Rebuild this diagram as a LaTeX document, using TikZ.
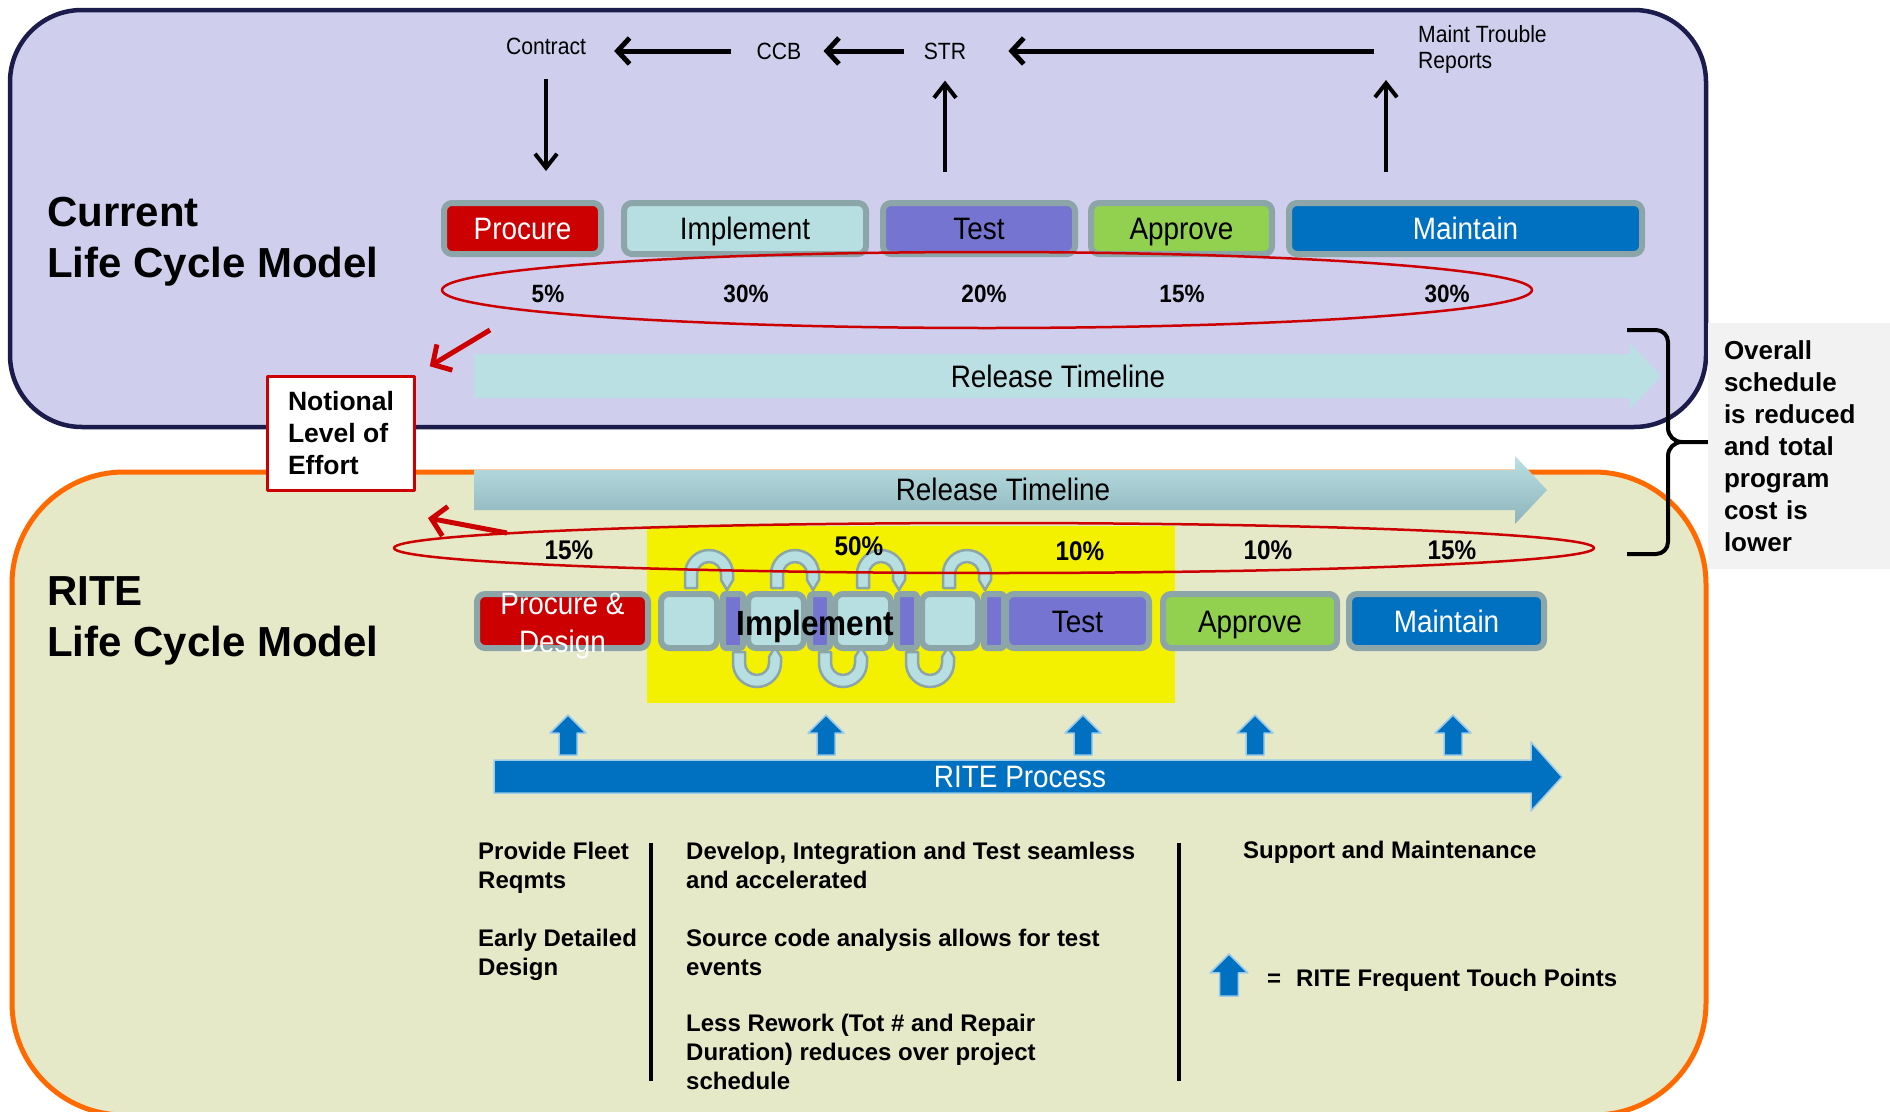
\documentclass[tikz,border=0pt]{standalone}
\usepackage{fontspec}
\setmainfont{Liberation Sans}
\newfontfamily\narrowfont{Liberation Sans}[FakeStretch=0.9]
\usetikzlibrary{arrows.meta,positioning}

\definecolor{curfill}{HTML}{CFCFED}
\definecolor{curline}{HTML}{1C1C4C}
\definecolor{ritefill}{HTML}{E6E9C8}
\definecolor{riteline}{HTML}{FF6A00}
\definecolor{procred}{HTML}{CC0000}
\definecolor{implcyan}{HTML}{B7DFE1}
\definecolor{testpurple}{HTML}{7575D1}
\definecolor{apprgreen}{HTML}{92D050}
\definecolor{maintblue}{HTML}{0070C0}
\definecolor{boxgray}{HTML}{8CA5A8}
\definecolor{relhi}{HTML}{BAE0E3}
\definecolor{rello}{HTML}{8DB4BB}
\definecolor{hilite}{HTML}{F3F000}
\definecolor{overallgray}{HTML}{F2F2F2}
\definecolor{touchedge}{HTML}{9CCBE8}

\newcommand{\stagefont}{\narrowfont\fontsize{31}{38}\selectfont}
\newcommand{\pctfont}{\narrowfont\bfseries\fontsize{25}{30}\selectfont}
\newcommand{\pctbigfont}{\narrowfont\bfseries\fontsize{27}{32}\selectfont}
\newcommand{\flowfont}{\narrowfont\fontsize{23.5}{26}\selectfont}
\newcommand{\titlefont}{\bfseries\fontsize{42}{51}\selectfont}
\newcommand{\notefont}{\bfseries\fontsize{26.5}{31.7}\selectfont}
\newcommand{\overallfont}{\bfseries\fontsize{26}{32}\selectfont}
\newcommand{\bodyfont}{\bfseries\fontsize{24}{29}\selectfont}
\newcommand{\implfont}{\narrowfont\bfseries\fontsize{35}{40}\selectfont}

\tikzset{
  loopup/.pic={\draw[loopband] (-24,14) -- (-24,0) arc[start angle=180,end angle=0,radius=24pt] -- (24,6) -- (18,16) -- (12,6) -- (12,0) arc[start angle=0,end angle=180,radius=12pt] -- (-12,14) -- cycle;},
  loopdown/.pic={\draw[loopband] (-24,-11) -- (-24,0) arc[start angle=180,end angle=360,radius=24pt] -- (24,-6) -- (18,-16) -- (12,-6) -- (12,0) arc[start angle=0,end angle=-180,radius=12pt] -- (-12,-11) -- cycle;},
  touch/.pic={\draw[fill=maintblue,draw=touchedge,line width=1.5pt] (-9,0) -- (-9,-22) -- (-18,-22) -- (0,-40) -- (18,-22) -- (9,-22) -- (9,0) -- cycle;}
}

\begin{document}
\begin{tikzpicture}[x=1pt,y=-1pt,line join=round]
  \tikzstyle{stage}=[draw=boxgray,line width=6pt,rounded corners=8pt,minimum height=51pt,inner sep=0pt,text height=22pt,text depth=0pt,font=\stagefont]
  \tikzstyle{lowstage}=[stage,minimum height=54pt]
  \tikzstyle{loopband}=[fill=implcyan,draw=boxgray,line width=2.5pt]
  \tikzstyle{flowlabel}=[inner sep=0pt,font=\flowfont,text height=16.8pt,text depth=0pt]
  \tikzstyle{flow}=[-{Straight Barb[length=12pt,width=26pt]},line width=5pt]
  \tikzstyle{flowv}=[-{Straight Barb[length=14pt,width=22pt]},line width=4pt]
  \tikzstyle{effort}=[-{Straight Barb[length=14pt,width=30pt]},draw=procred,line width=5pt]
  \tikzstyle{ring}=[draw=procred,line width=2.5pt]
  \tikzstyle{pct}=[inner sep=0pt,anchor=base,font=\pctfont]
  \tikzstyle{timelabel}=[inner sep=0pt,font=\stagefont,text height=21.5pt,text depth=0pt]
  \tikzstyle{bodytext}=[inner sep=0pt,font=\bodyfont,align=left]
\useasboundingbox (0,0) rectangle (1890,1111);
\fill[white] (0,0) rectangle (1890,1111);
\draw[draw=riteline,fill=ritefill,line width=5pt,rounded corners=112pt] (12,472) rectangle (1706,1115);
\draw[draw=curline,fill=curfill,line width=4.5pt,rounded corners=72pt] (10,10) rectangle (1706,427);
\node[fill=overallgray,minimum width=182pt,minimum height=246pt,inner sep=0pt,text width=150pt,align=left,font=\overallfont] (overall) at (1799,446) {Overall\\schedule\\is reduced\\and total\\program\\cost is\\lower};
\draw[line width=4pt] (1627,330) -- (1656,330) to[out=0,in=90] (1668,342) -- (1668,428) to[out=270,in=180] (1682,442) -- (overall.west |- 0,442);
\draw[line width=4pt] (1627,554) -- (1656,554) to[out=0,in=270] (1668,542) -- (1668,456) to[out=90,in=180] (1682,442);

\node[inner sep=0pt,anchor=north west,align=left,font=\titlefont] (curtitle) at (47,197) {Current\\Life Cycle Model};
\node[inner sep=0pt,anchor=north west,align=left,font=\titlefont] (ritetitle) at (47,576) {RITE\\Life Cycle Model};

\node[flowlabel] (contract) at (546,46) {Contract};
\node[flowlabel] (ccb) at (779,51) {CCB};
\node[flowlabel] (str) at (945,51) {STR};
\node[inner sep=0pt,anchor=north west,align=left,font=\flowfont] (mtr) at (1418,25) {Maint Trouble\\Reports};
\coordinate (mtrpin) at (1386,80);

\node[stage,fill=procred,text=white,minimum width=157pt] (procure) at (522.5,228.5) {Procure};
\node[stage,fill=implcyan,minimum width=242pt,right=17pt of procure] (implement) {Implement};
\node[stage,fill=testpurple,minimum width=192pt,right=11pt of implement] (test) {Test};
\node[stage,fill=apprgreen,minimum width=181pt,right=10pt of test] (approve) {Approve};
\node[stage,fill=maintblue,text=white,minimum width=353pt,right=11pt of approve] (maintain) {Maintain};

\draw[flow,shorten <=25pt,shorten >=28pt] (ccb.west) -- (contract.east |- ccb.west);
\draw[flow,shorten <=20pt,shorten >=22pt] (str.west) -- (ccb.east);
\draw[flow,shorten <=44pt,shorten >=42pt] (mtr.west |- str.east) -- (str.east);
\draw[flowv,shorten <=24pt,shorten >=29pt] (contract.south) -- (contract.south |- procure.north);
\draw[flowv,shorten <=28pt,shorten >=21pt] (str.south |- test.north) -- (str.south);
\draw[flowv,shorten <=28pt] (mtrpin |- maintain.north) -- (mtrpin);

\draw[ring] (987,290) ellipse [x radius=545pt,y radius=38pt];
\foreach \px/\pv [count=\i] in {548/5,746/30,984/20,1182/15,1447/30}
  \node[pct] (toppct\i) at (\px,302) {\pv\%};

\fill[relhi] (474,354) -- (1630,354) -- (1630,343) -- (1661,376) -- (1630,409) -- (1630,398) -- (474,398) -- cycle;
\node[timelabel] (reltop) at (1058,377) {Release Timeline};
\shade[top color=relhi,bottom color=rello] (474,470) -- (1515,470) -- (1515,456) -- (1547,490) -- (1515,524) -- (1515,510) -- (474,510) -- cycle;
\node[timelabel] (relbot) at (1003,490) {Release Timeline};

\node[draw=procred,fill=white,line width=3pt,minimum width=147pt,minimum height=114pt,inner sep=0pt,align=left,font=\notefont] (notional) at (341,433) {Notional\\Level of\\Effort};
\coordinate (effout) at (490,330);
\coordinate (effin) at (507,533);
\coordinate (effend) at (428,518);
\draw[effort,shorten >=16pt] (effout) -- (notional.north east);
\draw[effort] (effin) -- (effend);

\fill[hilite] (647,526) rectangle (1175,703);
\foreach \lx in {709,795,881,967} \pic at (\lx,574) {loopup};
\foreach \lx in {757,843,930} \pic at (\lx,663) {loopdown};

\node[lowstage,fill=procred,minimum width=171pt] (procdes) at (562.5,621) {};
\node[inner sep=0pt,align=center,font=\stagefont,text=white] (procdestxt) at ([yshift=-5pt]procdes.center) {Procure \&\\Design};
\foreach \k/\sx in {1/689,2/776,3/863,4/950}{
  \node[lowstage,fill=implcyan,minimum width=56pt] (sq\k) at (\sx,621) {};
  \node[lowstage,fill=testpurple,minimum width=20pt,rounded corners=3pt] (bar\k) at (\sx+44,621) {};
}
\node[lowstage,fill=testpurple,minimum width=143pt,right=-4pt of bar4] (test2) {Test};
\node[lowstage,fill=apprgreen,minimum width=174pt,right=8pt of test2] (approve2) {Approve};
\node[lowstage,fill=maintblue,text=white,minimum width=195pt,right=6pt of approve2] (maintain2) {Maintain};
\node[inner sep=0pt,font=\implfont,text height=25pt,text depth=0pt] (implbig) at (815,623) {Implement};

\draw[ring] (994,548) ellipse [x radius=600pt,y radius=25pt];
\foreach \px/\pv/\py [count=\i] in {569/15/559.7,859/50/555.7,1080/10/560.7,1268/10/559.7,1452/15/559.7}
  \node[pct,font=\pctbigfont] (lowpct\i) at (\px,\py) {\pv\%};

\foreach \tx in {568,826,1083,1255,1453} \pic at (\tx,755) {touch};
\draw[fill=maintblue,draw=touchedge,line width=1.5pt] (494,760) -- (1531,760) -- (1531,742) -- (1562,777) -- (1531,811) -- (1531,793) -- (494,793) -- cycle;
\node[timelabel,text=white] (riteproc) at (1020,777) {RITE Process};

\draw[line width=4pt] (651,843) -- (651,1081);
\draw[line width=4pt] (1179,843) -- (1179,1081);
\node[bodytext,anchor=north west] (fleet) at (478,841.4) {Provide Fleet\\Reqmts};
\node[bodytext,anchor=north west] (early) at (478,928.4) {Early Detailed\\Design};
\node[bodytext,anchor=north west] (develop) at (686,841.4) {Develop, Integration and Test seamless\\and accelerated};
\node[bodytext,anchor=north west] (source) at (686,928.4) {Source code analysis allows for test\\events};
\node[bodytext,anchor=north west] (rework) at (686,1013.4) {Less Rework (Tot \# and Repair\\Duration) reduces over project\\schedule};
\node[bodytext,anchor=base west] (support) at (1243,858.6) {Support and Maintenance};
\pic[scale=1.05] at (1229,996) {touch};
\node[bodytext,anchor=base west] (legend) at (1267,986.6) {=\hspace{15pt}RITE Frequent Touch Points};
\end{tikzpicture}
\end{document}
